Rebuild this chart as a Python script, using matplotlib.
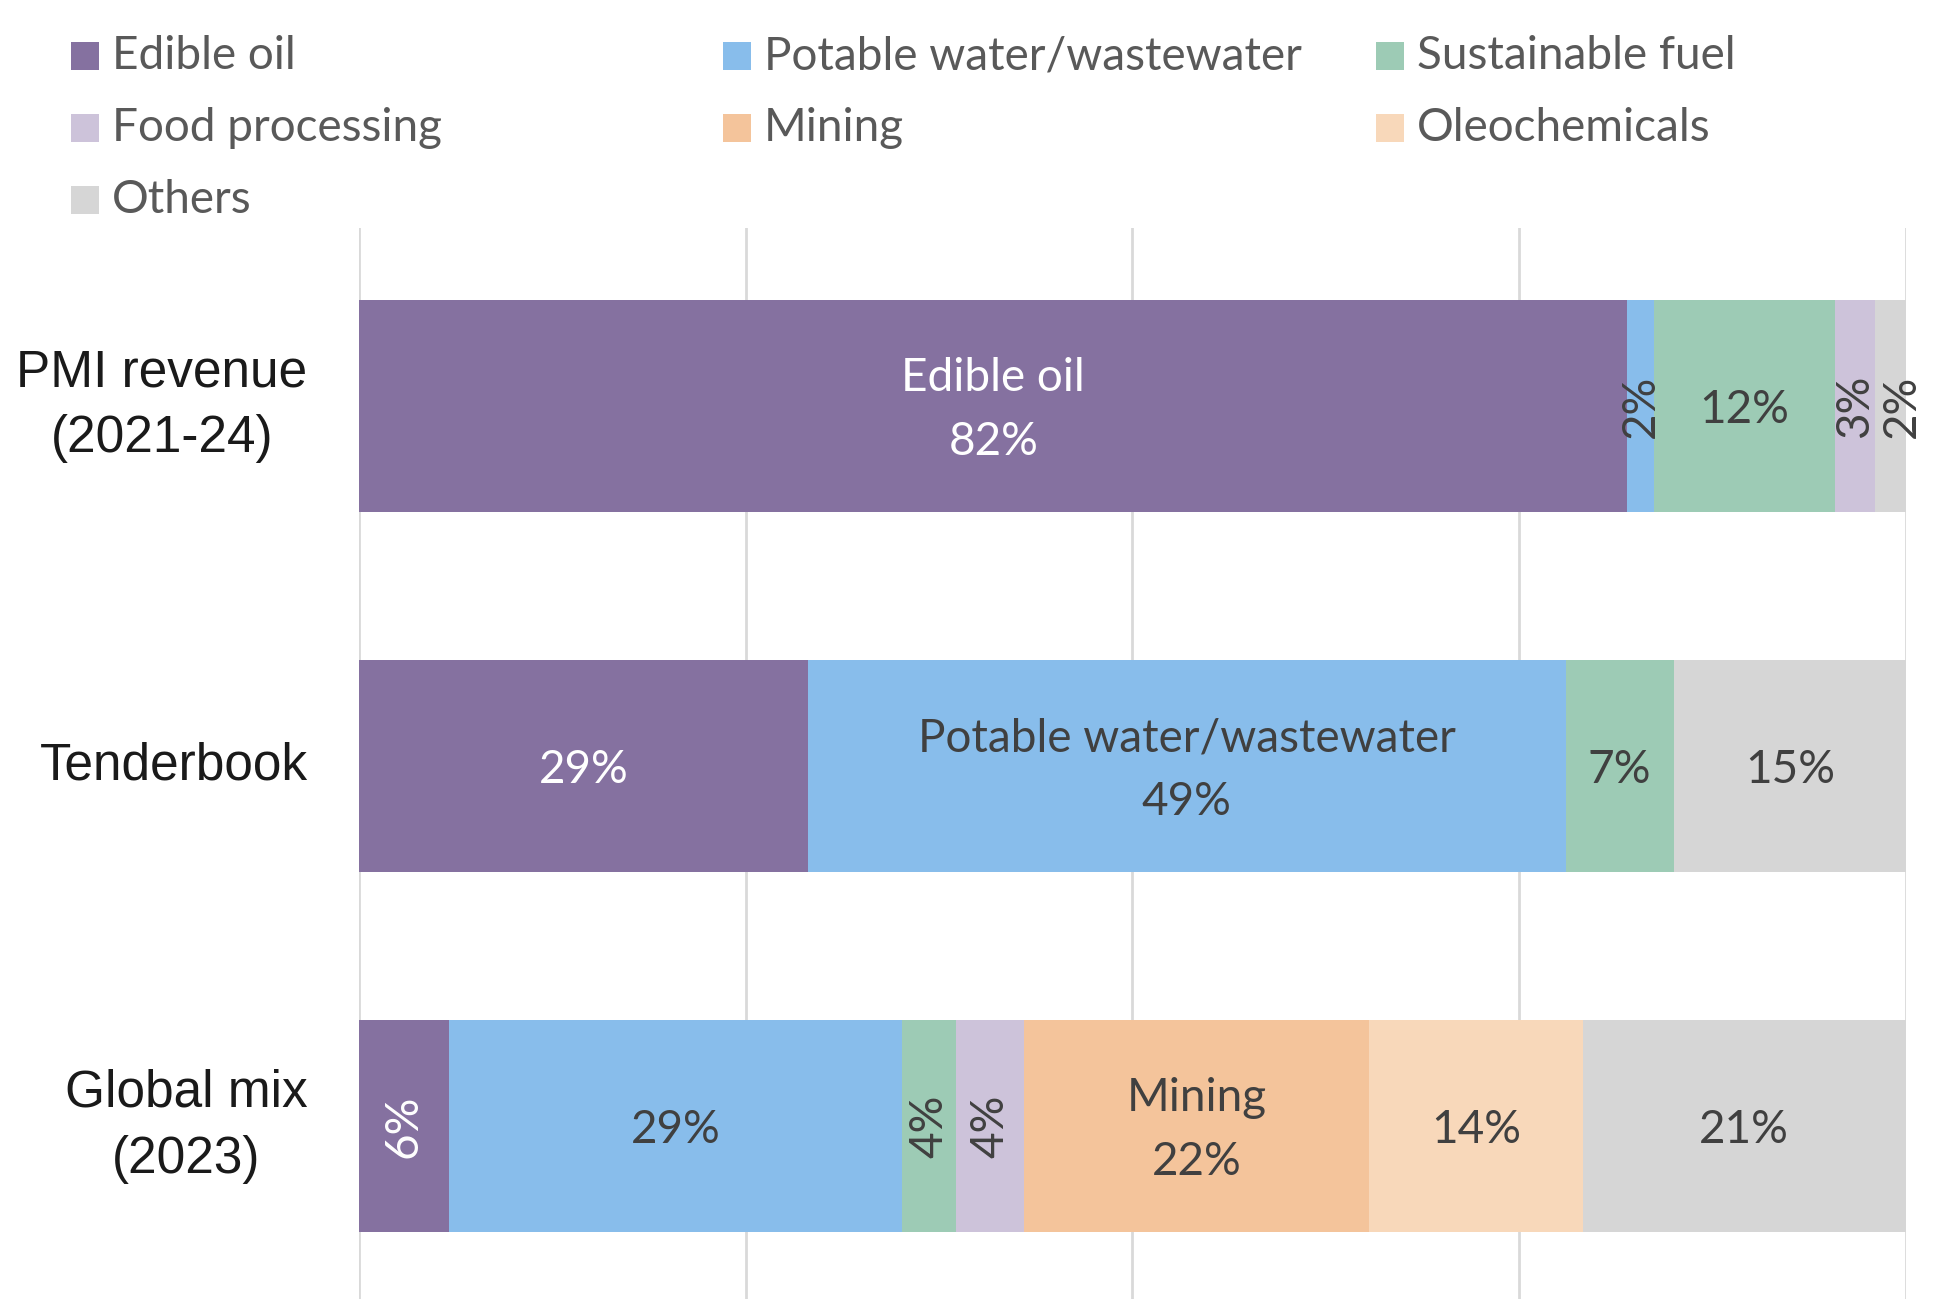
import matplotlib

matplotlib.use("Agg")

import matplotlib.pyplot as plt
import matplotlib.transforms as mtransforms
from matplotlib.patches import Rectangle
import numpy as np

categories = ["PMI revenue\n(2021-24)", "Tenderbook", "Global mix\n(2023)"]
series = [
    "Edible oil",
    "Potable water/wastewater",
    "Sustainable fuel",
    "Food processing",
    "Mining",
    "Oleochemicals",
    "Others",
]
edible_oil = [82.0, 29.0, 5.8]
potable_water = [1.7, 49.0, 29.3]
sustainable_fuel = [11.7, 7.0, 3.5]
food_processing = [2.6, 0.0, 4.4]
mining = [0.0, 0.0, 22.3]
oleochemicals = [0.0, 0.0, 13.8]
others = [2.0, 15.0, 20.9]
# which segment also carries the series name, per bar
named_segment = [0, 1, 4]

values = [edible_oil, potable_water, sustainable_fuel, food_processing,
          mining, oleochemicals, others]
colors = ["#8571a0", "#88bdeb", "#9dcbb5", "#cdc3da", "#f4c49b", "#f8d8ba", "#d6d6d6"]
DARK = "#404040"
LEGEND_TEXT = "#595959"
GRID = "#d9d9d9"
FONT = "Lato"
FS = 33
# small sideways nudges (points) so crowded labels don't collide
nudge = {(0, 6): 8}

fig = plt.figure(figsize=(19.54, 12.99), dpi=100, facecolor="white")
ax = fig.add_axes([0.1837, 0.0, 0.7917, 0.8245])

y = np.arange(len(categories))
left = np.zeros(len(categories))
for s, (name, vals, col) in enumerate(zip(series, values, colors)):
    vals = np.array(vals)
    ax.barh(y, vals, left=left, height=0.59, color=col, linewidth=0, zorder=2)
    for i, v in enumerate(vals):
        if v <= 0:
            continue
        cx = left[i] + v / 2
        txt = f"{v:.0f}%"
        va = "center_baseline"
        dy = 0
        if named_segment[i] == s:
            txt = f"{name}\n{txt}"
            va = "center"
            dy = -3
        tcol = "white" if s == 0 else DARK
        rot = 90 if v < 6.5 else 0
        if rot:
            va = "center"
        tr = mtransforms.offset_copy(ax.transData, fig=fig,
                                     x=nudge.get((i, s), 0), y=dy, units="points")
        ax.text(cx, y[i], txt, ha="center", va=va, rotation=rot, transform=tr,
                fontsize=FS, color=tcol, family=FONT, linespacing=1.65,
                multialignment="center", zorder=3)
    left += vals

ax.set_xlim(0, 100)
ax.set_ylim(2.48, -0.494)
ax.set_xticks([0, 25, 50, 75, 100])
ax.set_xticklabels([])
ax.tick_params(axis="x", length=0)
ax.grid(axis="x", color=GRID, linewidth=2, zorder=0)
ax.set_axisbelow(True)
for sp in ax.spines.values():
    sp.set_visible(False)

ax.set_yticks(y)
ax.set_yticklabels(categories, fontsize=37, family="Liberation Sans",
                   color="#1a1a1a", multialignment="center", linespacing=1.45,
                   va="center")
ax.tick_params(axis="y", length=0, pad=37)

# legend laid out like the source: three fixed-width columns, row-major
col_x = [71, 723, 1376]
row_y = [56, 128, 200]
W, H = 1954, 1299
box = 28
for i, (name, col) in enumerate(zip(series, colors)):
    cx = col_x[i % 3]
    cy = row_y[i // 3]
    fig.add_artist(Rectangle((cx / W, (H - cy - box / 2) / H), box / W, box / H,
                             transform=fig.transFigure, color=col, linewidth=0))
    fig.text((cx + box + 13) / W, (H - cy) / H, name, ha="left", va="center",
             fontsize=FS, color=LEGEND_TEXT, family=FONT)

fig.savefig("out.png", dpi=100, facecolor="white")
